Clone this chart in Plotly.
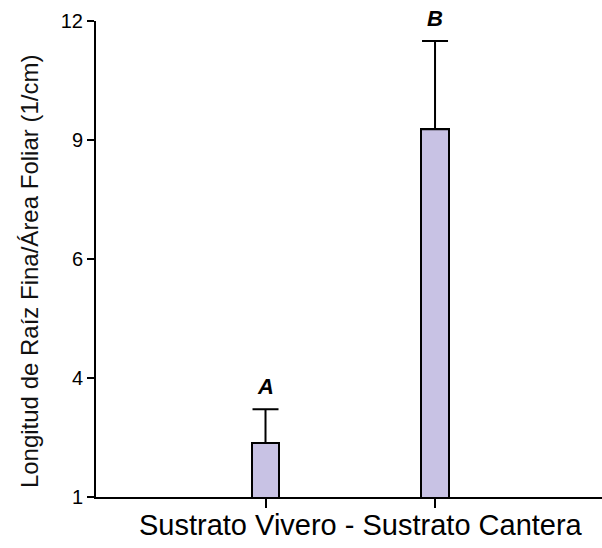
import plotly.graph_objects as go

# Fine-root length per leaf area, by substrate
categories = ["Sustrato Vivero", "Sustrato Cantera"]
means = [2.25, 9.50]
errors = [0.78, 2.04]
letters = ["A", "B"]

# Y axis: 1..12 split into four equal steps, labels rounded
y_tickvals = [1, 3.75, 6.5, 9.25, 12]
y_ticktext = ["1", "4", "6", "9", "12"]

x_title = "Sustrato Vivero - Sustrato Cantera"
y_title = "Longitud de Raíz Fina/Área Foliar (1/cm)"

fig = go.Figure()
fig.add_trace(go.Bar(
    x=categories,
    y=means,
    width=0.16,
    marker=dict(color="#C8C2E4", line=dict(color="black", width=2)),
    error_y=dict(type="data", symmetric=False, array=errors,
                 arrayminus=[0] * len(errors),
                 color="black", thickness=2, width=13),
    showlegend=False,
))

# Significance letters above each error cap
for cat, m, e, lab in zip(categories, means, errors, letters):
    fig.add_annotation(x=cat, y=m + e, text=f"<b><i>{lab}</i></b>",
                       showarrow=False, yanchor="bottom", yshift=8,
                       font=dict(family="Arial", size=22, color="black"))

# Axis titles as free text
fig.add_annotation(xref="paper", yref="paper", x=0.5237, y=-0.058,
                   xanchor="center", yanchor="middle", showarrow=False,
                   text=x_title, font=dict(family="Arial", size=29, color="black"))
fig.add_annotation(xref="paper", yref="paper", x=-0.13, y=0.475,
                   xanchor="center", yanchor="middle", showarrow=False,
                   textangle=-90,
                   text=y_title, font=dict(family="Arial", size=24, color="#111111"))

fig.update_layout(
    width=602, height=548,
    margin=dict(l=96, r=0, t=21, b=51),
    plot_bgcolor="white", paper_bgcolor="white",
    font=dict(family="Arial", color="black"),
    bargap=0,
)
fig.update_xaxes(
    range=[-1.0, 1.985],
    showline=True, linecolor="black", linewidth=2,
    ticks="outside", ticklen=9, tickwidth=2, tickcolor="black",
    showticklabels=False, showgrid=False, zeroline=False,
)
fig.update_yaxes(
    range=[1, 12],
    tickvals=y_tickvals, ticktext=y_ticktext,
    showline=True, linecolor="black", linewidth=2,
    ticks="outside", ticklen=7, tickwidth=2, tickcolor="black",
    tickfont=dict(size=20, family="Arial"),
    showgrid=False, zeroline=False,
)

fig.write_html("out.html")
